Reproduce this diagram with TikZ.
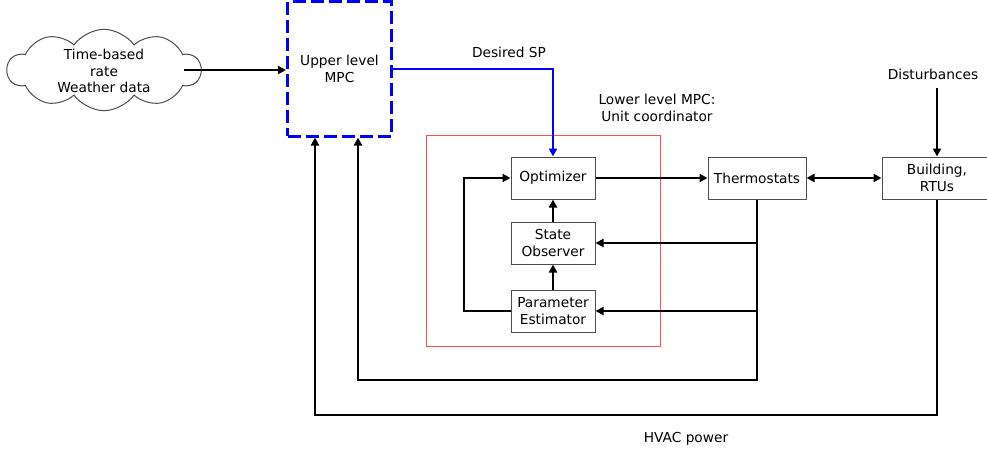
\documentclass[tikz,border=0pt]{standalone}
\usepackage{fontspec}
\setmainfont{DejaVu Sans}
\usetikzlibrary{shapes.symbols,arrows.meta}
\definecolor{boxgray}{HTML}{4D4D4D}
\definecolor{mpcblue}{HTML}{0000FF}
\definecolor{lowred}{HTML}{FF4D4D}
\begin{document}
\begin{tikzpicture}[x=0.75pt,y=-0.75pt,
  font=\fontsize{10.3}{12.5}\selectfont,
  blockbox/.style={draw=boxgray, line width=0.75pt, minimum width=63pt,
    minimum height=31.5pt, align=center, inner sep=0pt},
  conn/.style={line width=1.5pt, -{Triangle[length=6pt,width=6pt]}},
  lbl/.style={align=center, inner sep=0pt}]
\useasboundingbox (0,0) rectangle (987,453);

% inputs of the upper controller: cloud outline with its text on top
\node[cloud, draw=boxgray, line width=0.75pt, cloud puffs=10, cloud puff arc=110,
  cloud ignores aspect, minimum width=145pt, minimum height=61pt, inner sep=0pt]
  (data) at (104,70) {};
\node[lbl] (datatxt) at (104,71) {Time-based\\rate\\Weather data};

\node[draw=mpcblue, line width=2.25pt, dash pattern=on 9.75pt off 3.75pt,
  minimum width=78pt, minimum height=100.5pt, align=center, inner sep=0pt]
  (upper) at (339.5,69) {Upper level\\MPC};

% lower level MPC frame
\node[draw=lowred, line width=0.75pt, minimum width=175.5pt,
  minimum height=158.25pt, inner sep=0pt] (lower) at (543,240.5) {};
\node[lbl] (lowlbl) at (657,108) {Lower level MPC:\\Unit coordinator};

\node[blockbox] (opt) at (553,178) {Optimizer};
\node[blockbox] (so)  at (553,243) {State\\Observer};
\node[blockbox] (pe)  at (553,311) {Parameter\\Estimator};

\node[blockbox, minimum width=73.5pt] (thermo) at (757,178) {Thermostats};
\node[blockbox, minimum width=82.5pt] (bldg) at (937,178) {Building,\\RTUs};

\node[lbl] (sp)   at (509,52)  {Desired SP};
\node[lbl] (dist) at (933,74)  {Disturbances};
\node[lbl] (hvac) at (686,439) {HVAC power};

% helper points for the feedback paths
\coordinate (cloudout) at (184,70);
\coordinate (loopx)  at (464,0);
\coordinate (innerc) at (757,380);
\coordinate (outerc) at (937,415);
\coordinate (upin1)  at (315,0);
\coordinate (upin2)  at (358,0);

% connectors
\draw[conn] (cloudout) -- (cloudout -| upper.west);
\draw[conn, draw=mpcblue, line width=1.5pt] (upper.east) -| (opt.north);
\draw[conn] (opt) -- (thermo);
\draw[conn] (so) -- (opt);
\draw[conn] (pe) -- (so);
\draw[conn] (pe.west) -- (pe.west -| loopx) |- (opt.west);
\draw[line width=1.5pt, {Triangle[length=6pt,width=6pt]}-{Triangle[length=6pt,width=6pt]}]
  (thermo) -- (bldg);
\draw[conn] (bldg.north |- 0,88) -- (bldg.north);
\draw[conn] (thermo.south) -- (innerc) -| (upin2 |- upper.south);
\draw[conn] (so.east -| innerc) -- (so.east);
\draw[conn] (pe.east -| innerc) -- (pe.east);
\draw[conn] (bldg.south) -- (outerc) -| (upin1 |- upper.south);
\end{tikzpicture}
\end{document}
